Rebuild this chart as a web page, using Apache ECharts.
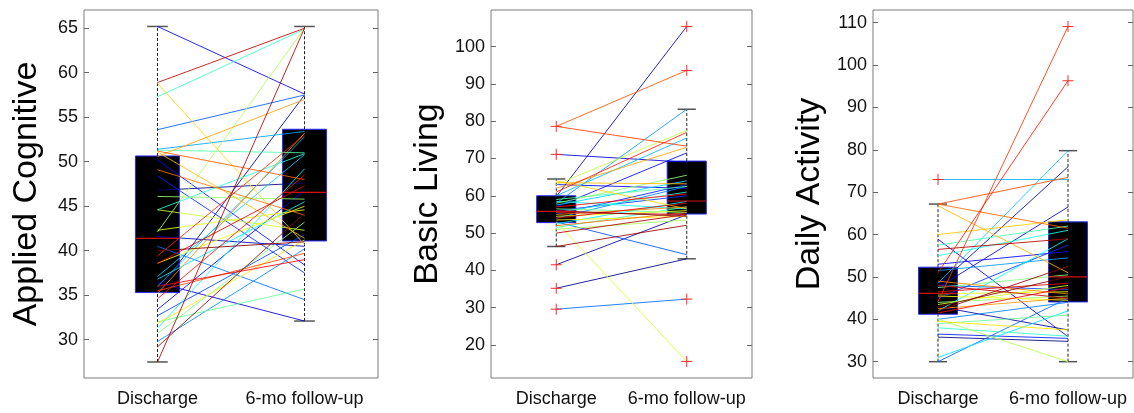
<!DOCTYPE html>
<html><head><meta charset="utf-8">
<script src="https://cdn.jsdelivr.net/npm/echarts@6/dist/echarts.min.js"></script>
<style>html,body{margin:0;padding:0;background:#fff}#c{width:1134px;height:413px}</style>
</head><body><div id="c"></div><script>
// ---------- DATA ----------
const categories = ['Discharge', '6-mo follow-up'];
const yTitles = ['Applied Cognitive', 'Basic Living', 'Daily Activity'];

// Applied Cognitive
const acTicks = [30, 35, 40, 45, 50, 55, 60, 65];
const acRange = [25.7, 67.05];
const acDischarge = [46.8,35.4,41.6,36.4,33.4,65.2,50.2,48.4,32.7,53.6,40.5,29.8,51.4,36.0,37.1,36.8,31.3,44.6,57.3,51.3,32.0,30.7,46.1,42.1,44.6,42.3,38.6,31.8,58.8,51.1,50.6,35.2,49.1,51.2,35.5,39.4,34.6,36.0,38.6,58.9,27.5,29.2,40.0];
const acFollowup  = [47.6,57.5,40.5,32.1,46.8,57.6,38.4,37.5,41.8,57.5,34.5,40.2,53.4,52.8,50.8,45.5,49.2,50.9,64.9,51.0,35.7,43.2,45.8,65.0,42.3,44.6,45.0,41.2,40.7,41.4,57.0,53.2,44.0,48.0,39.7,53.0,48.5,39.0,47.3,65.0,65.0,44.2,41.0];
// box stats: [whiskerLow, q1, median, q3, whiskerHigh]
const acBoxDischarge = [27.5, 35.3, 41.4, 50.65, 65.2];
const acBoxFollowup  = [32.1, 41.1, 46.55, 53.65, 65.2];
const acOutDischarge = [];
const acOutFollowup  = [];

// Basic Living
const blTicks = [20, 30, 40, 50, 60, 70, 80, 90, 100];
const blRange = [11.15, 109.8];
const blDischarge = [35.2,41.5,59.8,71.1,63.0,57.0,55.0,56.0,53.0,29.6,54.0,58.0,60.0,57.5,52.5,58.5,55.5,51.5,59.0,56.5,58.0,51.0,63.0,53.0,54.5,53.5,64.0,63.5,62.0,55.0,52.0,78.6,78.6,61.0,57.0,54.0,55.5,50.0,46.4,56.0];
const blFollowup  = [43.1,54.9,105.4,69.0,62.0,71.5,63.0,60.0,44.2,32.3,62.5,83.2,75.5,64.0,58.5,56.5,61.0,57.0,62.5,55.5,65.5,53.5,77.5,15.6,56.0,54.5,56.5,63.2,73.0,57.0,55.5,93.6,73.3,77.0,60.5,58.0,55.0,55.0,52.1,54.5];
const blBoxDischarge = [46.4, 52.8, 55.8, 60.0, 64.5];
const blBoxFollowup  = [43.1, 55.1, 58.6, 69.3, 83.2];
const blOutDischarge = [78.6, 71.1, 41.5, 35.2, 29.6];
const blOutFollowup  = [105.4, 93.6, 32.3, 15.6];

// Daily Activity
const daTicks = [30, 40, 50, 60, 70, 80, 90, 100, 110];
const daRange = [26.15, 113.0];
const daDischarge = [35.8,43.0,48.0,47.5,58.9,53.0,36.5,45.0,48.0,30.0,40.0,51.5,73.0,48.5,31.0,42.0,55.0,38.0,57.5,39.0,47.5,44.0,40.0,43.5,46.0,45.5,39.5,60.0,66.8,42.5,49.0,67.2,67.2,44.2,51.0,41.5,46.5,48.0,56.5,42.0,43.0];
const daFollowup  = [34.8,37.5,76.0,66.5,35.9,56.0,35.5,57.5,47.0,45.0,44.0,54.5,73.0,79.8,42.0,59.0,61.0,36.0,62.0,41.0,50.5,45.5,30.0,48.0,46.5,44.5,37.5,63.5,51.0,45.0,46.0,61.5,73.5,109.1,96.3,47.5,48.5,45.0,59.0,52.5,50.0];
const daBoxDischarge = [30.0, 41.2, 46.1, 52.3, 67.2];
const daBoxFollowup  = [30.0, 44.1, 50.0, 63.0, 79.8];
const daOutDischarge = [73.0];
const daOutFollowup  = [109.1, 96.3];

// ---------- LAYOUT / STYLE ----------
const FONT = "'Liberation Sans', Arial, Helvetica, sans-serif";
const grids = [
  {left: 84, top: 10, width: 294, height: 368},
  {left: 491, top: 10, width: 261, height: 368},
  {left: 873, top: 10, width: 260, height: 368}
];
const nameGaps = [40, 46, 46];
const BOX_W = 0.3, CAP_W = 0.14;

function jet(t) {
  const c = v => Math.max(0, Math.min(1, v));
  const r = c(1.5 - Math.abs(4 * t - 3));
  const g = c(1.5 - Math.abs(4 * t - 2));
  const b = c(1.5 - Math.abs(4 * t - 1));
  return 'rgb(' + Math.round(r * 255) + ',' + Math.round(g * 255) + ',' + Math.round(b * 255) + ')';
}

const panels = [
  {ticks: acTicks, range: acRange, d: acDischarge, f: acFollowup, boxes: [acBoxDischarge, acBoxFollowup], outs: [acOutDischarge, acOutFollowup]},
  {ticks: blTicks, range: blRange, d: blDischarge, f: blFollowup, boxes: [blBoxDischarge, blBoxFollowup], outs: [blOutDischarge, blOutFollowup]},
  {ticks: daTicks, range: daRange, d: daDischarge, f: daFollowup, boxes: [daBoxDischarge, daBoxFollowup], outs: [daOutDischarge, daOutFollowup]}
];

const option = {
  animation: false,
  backgroundColor: '#fff',
  grid: grids.map(g => Object.assign({show: true, borderColor: '#7a7a7a', borderWidth: 1, backgroundColor: 'transparent'}, g)),
  xAxis: [], yAxis: [], series: []
};

panels.forEach((p, i) => {
  option.xAxis.push({
    type: 'value', gridIndex: i, min: 0.5, max: 2.5,
    axisLine: {show: false}, splitLine: {show: false},
    axisTick: {show: false},
    axisLabel: {customValues: [1, 2], formatter: v => categories[Math.round(v) - 1], color: '#111', fontSize: 18, fontFamily: FONT, margin: 12}
  });
  const yBase = {
    type: 'value', gridIndex: i, min: p.range[0], max: p.range[1],
    splitLine: {show: false}, axisLine: {show: false}
  };
  option.yAxis.push(Object.assign({}, yBase, {
    position: 'left',
    name: yTitles[i], nameLocation: 'middle', nameRotate: 90, nameGap: nameGaps[i],
    nameTextStyle: {fontSize: 34, color: '#000', fontFamily: FONT},
    axisTick: {show: true, inside: true, length: 5, customValues: p.ticks, lineStyle: {color: '#666'}},
    axisLabel: {customValues: p.ticks, color: '#111', fontSize: 18, fontFamily: FONT, margin: 6}
  }));
  option.yAxis.push(Object.assign({}, yBase, {
    position: 'right',
    axisTick: {show: true, inside: true, length: 5, customValues: p.ticks, lineStyle: {color: '#666'}},
    axisLabel: {show: false}
  }));
  const yl = i * 2;
  // box + whiskers
  option.series.push({
    type: 'custom', xAxisIndex: i, yAxisIndex: yl, z: 2,
    data: p.boxes.map((b, k) => [k + 1].concat(b)),
    renderItem: (params, api) => {
      const x = api.value(0);
      const lo = api.coord([x, api.value(1)]), q1 = api.coord([x, api.value(2)]);
      const q3 = api.coord([x, api.value(4)]), hi = api.coord([x, api.value(5)]);
      const bw = api.size([BOX_W, 0])[0], cw = api.size([CAP_W, 0])[0];
      const dash = {stroke: '#222', lineWidth: 1, lineDash: [3, 2]};
      const cap = {stroke: '#555', lineWidth: 1.5};
      return {type: 'group', children: [
        {type: 'line', shape: {x1: lo[0], y1: lo[1], x2: q1[0], y2: q1[1]}, style: dash},
        {type: 'line', shape: {x1: q3[0], y1: q3[1], x2: hi[0], y2: hi[1]}, style: dash},
        {type: 'line', shape: {x1: lo[0] - cw / 2, y1: lo[1], x2: lo[0] + cw / 2, y2: lo[1]}, style: cap},
        {type: 'line', shape: {x1: hi[0] - cw / 2, y1: hi[1], x2: hi[0] + cw / 2, y2: hi[1]}, style: cap},
        {type: 'rect', shape: {x: q3[0] - bw / 2, y: q3[1], width: bw, height: q1[1] - q3[1]}, style: {fill: '#000', stroke: '#2a2aff', lineWidth: 1}}
      ]};
    }
  });
  // subject lines
  const n = p.d.length;
  option.series.push({
    type: 'custom', xAxisIndex: i, yAxisIndex: yl, z: 3,
    data: p.d.map((v, k) => [v, p.f[k]]),
    renderItem: (params, api) => {
      const a = api.coord([1, api.value(0)]), b = api.coord([2, api.value(1)]);
      return {type: 'line', shape: {x1: a[0], y1: a[1], x2: b[0], y2: b[1]},
        style: {stroke: jet(params.dataIndex / (n - 1)), lineWidth: 1, opacity: 0.85}};
    }
  });
  // medians
  option.series.push({
    type: 'custom', xAxisIndex: i, yAxisIndex: yl, z: 4,
    data: p.boxes.map((b, k) => [k + 1, b[2]]),
    renderItem: (params, api) => {
      const c = api.coord([api.value(0), api.value(1)]);
      const bw = api.size([BOX_W, 0])[0];
      return {type: 'line', shape: {x1: c[0] - bw / 2, y1: c[1], x2: c[0] + bw / 2, y2: c[1]}, style: {stroke: '#d01010', lineWidth: 1.2}};
    }
  });
  // outliers
  const outData = [];
  p.outs.forEach((arr, k) => arr.forEach(v => outData.push([k + 1, v])));
  option.series.push({
    type: 'custom', xAxisIndex: i, yAxisIndex: yl, z: 5,
    data: outData,
    renderItem: (params, api) => {
      const c = api.coord([api.value(0), api.value(1)]);
      const s = 5.5, st = {stroke: '#ff2a2a', lineWidth: 1};
      return {type: 'group', children: [
        {type: 'line', shape: {x1: c[0] - s, y1: c[1], x2: c[0] + s, y2: c[1]}, style: st},
        {type: 'line', shape: {x1: c[0], y1: c[1] - s, x2: c[0], y2: c[1] + s}, style: st}
      ]};
    }
  });
});

echarts.init(document.getElementById('c'), null, {renderer: 'canvas'}).setOption(option);
</script></body></html>
